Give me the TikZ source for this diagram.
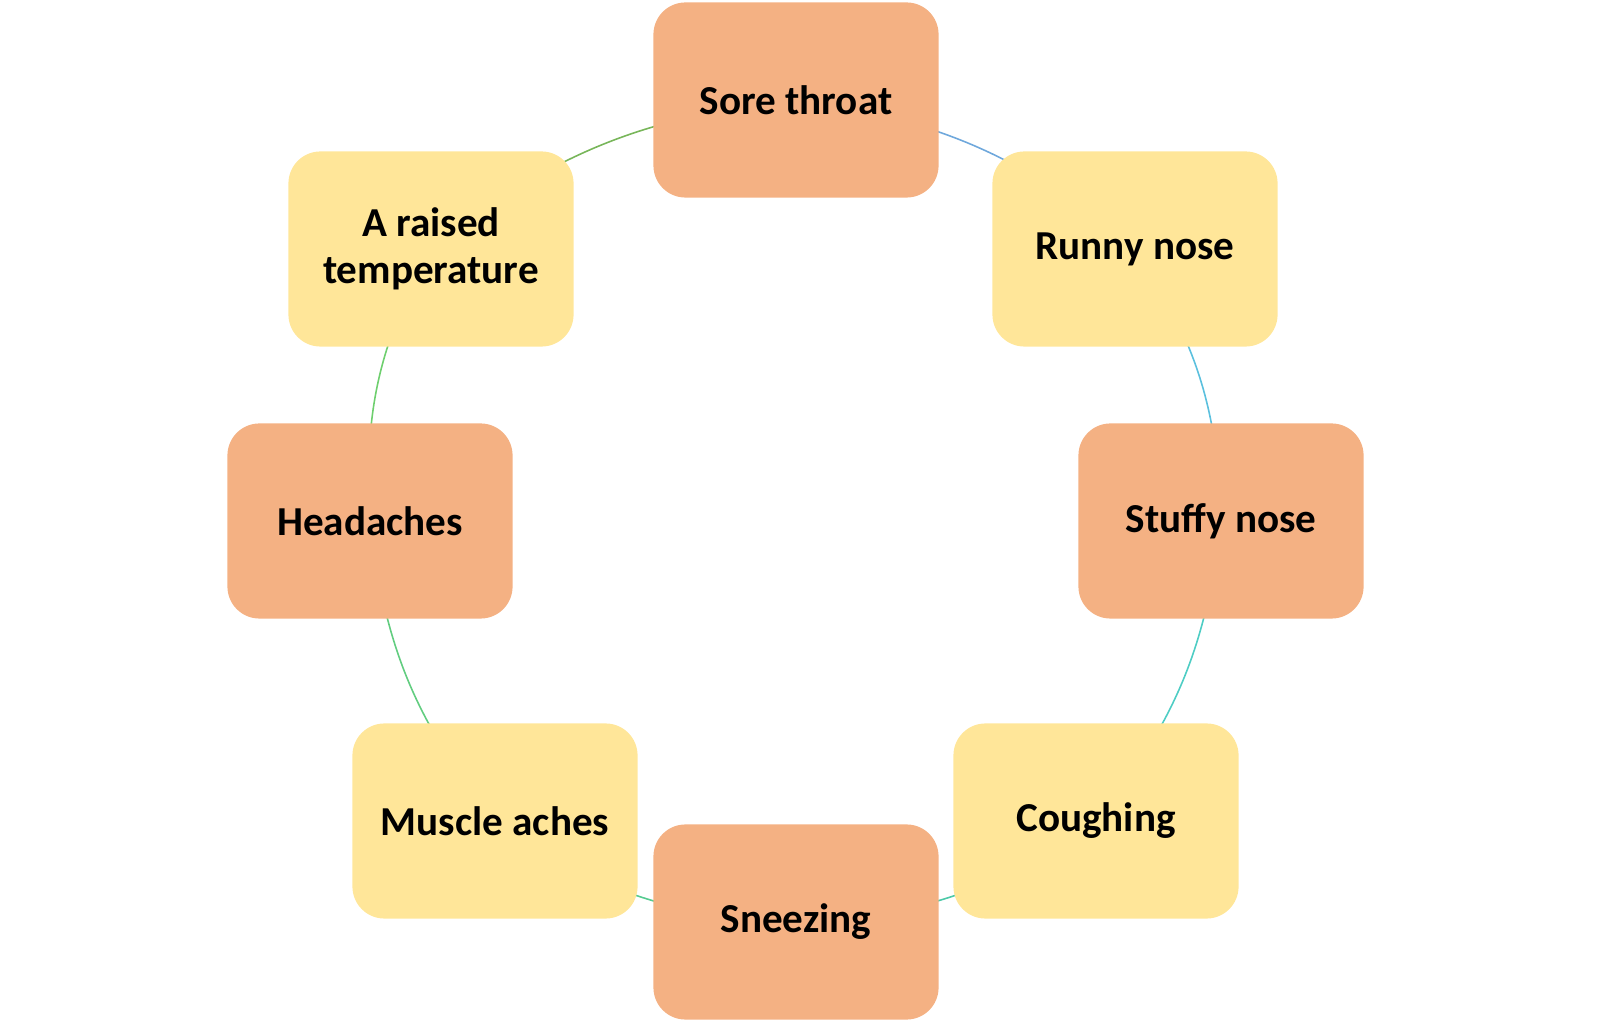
\documentclass[tikz,border=0pt]{standalone}
\usepackage{fontspec}
\setmainfont{Carlito}
\usepackage{tikz}
\usetikzlibrary{backgrounds}
\definecolor{peach}{HTML}{F4B183}
\definecolor{butter}{HTML}{FFE699}
\definecolor{arcA}{HTML}{6FA8DC}
\definecolor{arcB}{HTML}{5BC0DE}
\definecolor{arcC}{HTML}{4ECDC4}
\definecolor{arcD}{HTML}{4CC9A8}
\definecolor{arcE}{HTML}{56CB90}
\definecolor{arcF}{HTML}{62CD80}
\definecolor{arcG}{HTML}{6ECF6E}
\definecolor{arcH}{HTML}{78B65A}
\tikzset{box/.style = {rectangle, rounded corners=0.32cm, minimum width=2.85cm, minimum height=1.95cm,
                       inner sep=0pt, align=center, font=\fontsize{11.7}{13.4}\selectfont\bfseries},
         link/.style = {line width=0.45pt, bend left=16}}

\begin{document}
\begin{tikzpicture}[x=0.01cm, y=-0.01cm]
            \useasboundingbox (0,0) rectangle (1600,1022);

            \node[box, fill=peach]  (0) at ( 796, 100) {Sore throat};
            \node[box, fill=butter] (1) at (1135, 249) {Runny nose};
            \node[box, fill=peach]  (2) at (1221, 521) {Stuffy nose};
            \node[box, fill=butter] (3) at (1096, 821) {Coughing};
            \node[box, fill=peach]  (4) at ( 796, 922) {Sneezing};
            \node[box, fill=butter] (5) at ( 495, 821) {Muscle aches};
            \node[box, fill=peach]  (6) at ( 370, 521) {Headaches};
            \node[box, fill=butter] (7) at ( 431, 249) {A raised\\temperature};

            \begin{scope}[on background layer]
            \draw[link, arcA] (0.center) to (1.center);
            \draw[link, arcB] (1.center) to (2.center);
            \draw[link, arcC] (2.center) to (3.center);
            \draw[link, arcD] (3.center) to (4.center);
            \draw[link, arcE] (4.center) to (5.center);
            \draw[link, arcF] (5.center) to (6.center);
            \draw[link, arcG] (6.center) to (7.center);
            \draw[link, arcH] (7.center) to (0.center);
            \end{scope}
        \end{tikzpicture}
\end{document}
